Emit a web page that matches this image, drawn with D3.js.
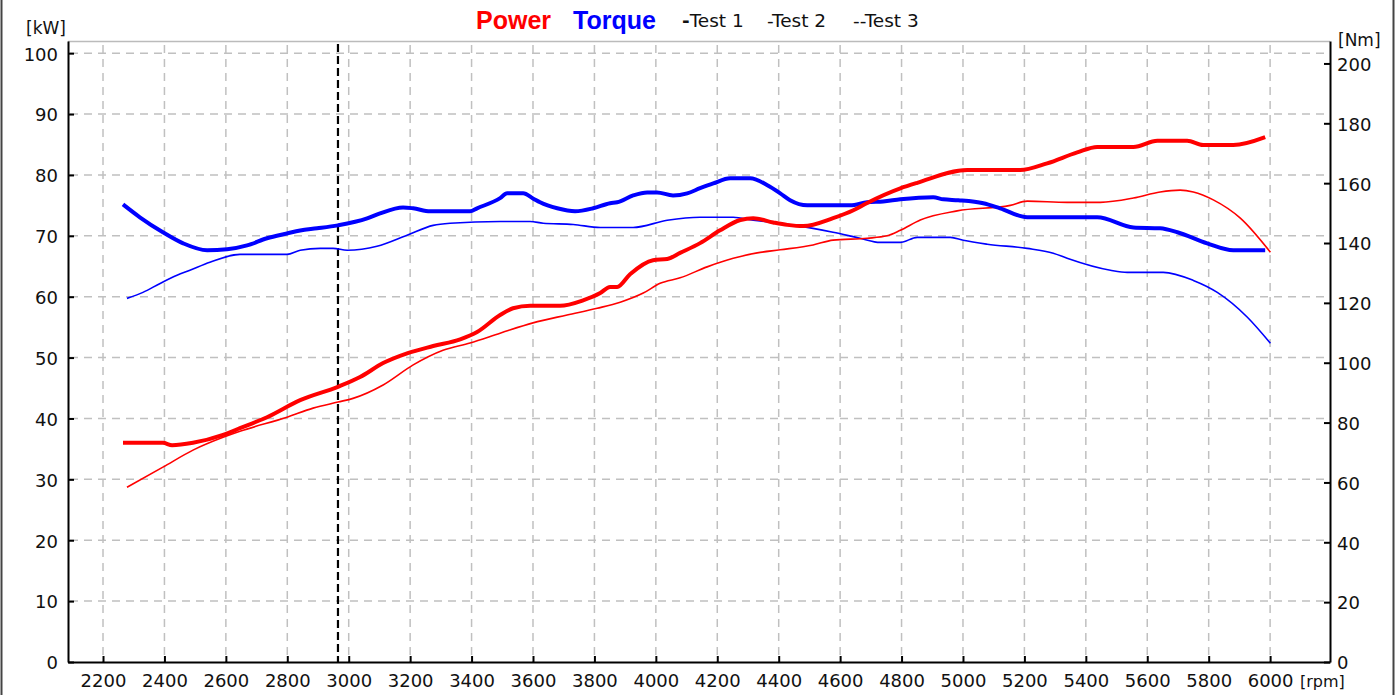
<!DOCTYPE html>
<html><head><meta charset="utf-8">
<script src="https://cdn.jsdelivr.net/npm/d3@7"></script>
<style>
html,body{margin:0;padding:0;background:#fff;}
svg text{font-family:"DejaVu Sans",Verdana,sans-serif;}
</style></head>
<body>
<svg id="chart" width="1396" height="695"></svg>
<script>
// ---- data (rpm, value) ----
const powerTest1 = [[2265,36.0],[2395,36.0],[2425,35.6],[2493,36.0],[2591,37.3],[2646,38.4],[2734,40.2],[2842,43.0],[2965,45.2],[3037,46.8],[3112,49.1],[3190,50.7],[3275,51.9],[3363,53.0],[3418,54.2],[3493,57.0],[3535,58.1],[3591,58.5],[3688,58.5],[3763,59.4],[3819,60.6],[3851,61.6],[3874,61.6],[3916,63.7],[3991,66.0],[4037,66.2],[4079,67.2],[4144,68.8],[4209,70.9],[4275,72.6],[4317,72.9],[4382,72.2],[4428,71.8],[4480,71.6],[4577,72.9],[4643,74.2],[4688,75.4],[4796,77.8],[4851,78.7],[5014,80.8],[5186,80.8],[5274,81.9],[5372,83.7],[5437,84.6],[5555,84.6],[5633,85.6],[5730,85.6],[5782,84.9],[5880,84.9],[5984,86.2]];
const powerTest2 = [[2278,28.7],[2395,32.0],[2493,34.8],[2591,36.9],[2646,37.9],[2799,40.2],[2884,41.7],[2965,42.7],[3014,43.3],[3112,45.5],[3210,48.8],[3307,51.2],[3395,52.4],[3493,54.0],[3600,55.7],[3711,57.0],[3809,58.1],[3884,59.1],[3959,60.6],[4014,62.2],[4079,63.1],[4167,64.9],[4252,66.3],[4330,67.2],[4405,67.7],[4512,68.5],[4577,69.3],[4688,69.6],[4753,70.0],[4796,70.9],[4861,72.6],[4981,74.1],[5154,75.0],[5209,75.7],[5339,75.5],[5447,75.5],[5555,76.2],[5642,77.2],[5707,77.5],[5750,77.2],[5815,75.9],[5903,72.9],[6001,67.3]];
const torqueTest1 = [[2265,152.9],[2320,148.6],[2395,143.6],[2461,139.9],[2539,137.6],[2604,137.9],[2669,139.2],[2734,141.6],[2799,143.2],[2842,144.2],[2897,144.9],[2965,145.9],[3060,148.2],[3102,149.9],[3177,151.9],[3210,151.6],[3265,150.6],[3395,150.6],[3418,151.6],[3493,155.0],[3516,156.6],[3568,156.6],[3600,154.9],[3623,153.6],[3679,151.6],[3737,150.6],[3796,151.6],[3851,153.3],[3874,153.6],[3926,155.9],[3972,156.9],[4004,156.9],[4056,155.9],[4102,156.6],[4144,158.3],[4187,159.9],[4242,161.6],[4307,161.6],[4363,159.3],[4405,156.6],[4437,154.3],[4493,152.6],[4633,152.6],[4688,153.6],[4740,153.9],[4796,154.6],[4903,155.3],[4936,154.6],[4985,154.3],[5066,153.3],[5121,151.6],[5209,148.6],[5437,148.6],[5555,145.2],[5642,144.9],[5698,143.6],[5795,139.9],[5880,137.6],[5984,137.6]];
const torqueTest2 = [[2278,121.5],[2330,123.5],[2386,126.5],[2441,129.2],[2483,130.9],[2548,133.6],[2646,136.2],[2799,136.2],[2842,137.6],[2907,138.2],[2949,138.2],[2995,137.6],[3092,138.9],[3190,142.6],[3275,145.9],[3330,146.6],[3493,147.2],[3591,147.2],[3633,146.6],[3731,146.2],[3819,145.2],[3926,145.2],[4037,147.6],[4144,148.6],[4252,148.6],[4317,147.6],[4405,146.6],[4512,144.9],[4577,143.6],[4665,141.6],[4730,140.2],[4796,140.2],[4851,141.9],[4959,141.9],[5001,140.9],[5079,139.6],[5209,138.2],[5294,136.6],[5339,134.9],[5480,130.9],[5535,130.2],[5652,130.2],[5750,127.5],[5828,123.5],[5926,115.2],[6001,106.5]];
const rpmTicks = [2200,2400,2600,2800,3000,3200,3400,3600,3800,4000,4200,4400,4600,4800,5000,5200,5400,5600,5800,6000];
const kwTicks = [0,10,20,30,40,50,60,70,80,90,100];
const nmTicks = [0,20,40,60,80,100,120,140,160,180,200];
const cursorRpm = 2965;

// ---- layout ----
const L = 68, R = 1330, T = 41, B = 662;
const svg = d3.select("#chart");
const x = d3.scaleLinear().domain([2086, 6195]).range([L, R]);
const yL = d3.scaleLinear().domain([0, 102]).range([B, T]);
const yR = d3.scaleLinear().domain([0, 207.5]).range([B, T]);

// outer frame
svg.append("line").attr("x1",1.5).attr("x2",1.5).attr("y1",0).attr("y2",695).attr("stroke","#444").attr("stroke-width",2);
svg.append("line").attr("x1",1393.5).attr("x2",1393.5).attr("y1",0).attr("y2",695).attr("stroke","#444").attr("stroke-width",2);

// top border
svg.append("line").attr("x1",L).attr("x2",R).attr("y1",T+0.5).attr("y2",T+0.5).attr("stroke","#bbb").attr("stroke-width",1.5);

// grid
const grid = svg.append("g").attr("stroke","#c0c0c0").attr("stroke-width",1.5).attr("stroke-dasharray","8,6").attr("fill","none");
kwTicks.filter(d=>d>0).forEach(v=>{
  grid.append("line").attr("x1",L+2).attr("x2",R).attr("y1",yL(v)).attr("y2",yL(v));
});
rpmTicks.forEach(v=>{
  grid.append("line").attr("x1",x(v)).attr("x2",x(v)).attr("y1",T+4).attr("y2",B);
});

// cursor line
svg.append("line").attr("x1",x(cursorRpm)).attr("x2",x(cursorRpm)).attr("y1",T+3).attr("y2",B)
  .attr("stroke","#000").attr("stroke-width",2.2).attr("stroke-dasharray","8,4");

// axes
const fmt = d3.format("d");
const axL = d3.axisLeft(yL).tickValues(kwTicks).tickFormat(fmt).tickSizeInner(-6).tickSizeOuter(0).tickPadding(10);
const axR = d3.axisRight(yR).tickValues(nmTicks).tickFormat(fmt).tickSizeInner(-6).tickSizeOuter(0).tickPadding(7);
const axB = d3.axisBottom(x).tickValues(rpmTicks).tickFormat(fmt).tickSizeInner(-6).tickSizeOuter(0).tickPadding(12);
function styleAxis(g){
  g.select(".domain").attr("stroke","#000").attr("stroke-width",2);
  g.selectAll(".tick line").attr("stroke","#000").attr("stroke-width",2);
  g.selectAll(".tick text").attr("fill","#111").style("font-size","18px").style("font-family","'DejaVu Sans',sans-serif");
}
const gL = svg.append("g").attr("transform",`translate(${L},0)`).call(axL).call(styleAxis);
gL.selectAll(".tick text").attr("dy","0.38em");
const gR = svg.append("g").attr("transform",`translate(${R},0)`).call(axR).call(styleAxis);
gR.selectAll(".tick text").attr("dy","0.38em");
const gB = svg.append("g").attr("transform",`translate(0,${B})`).call(axB).call(styleAxis);
gB.selectAll(".tick text").attr("dy","0.71em");

// unit labels
svg.append("text").attr("x",26).attr("y",34).text("[kW]").style("font-size","17px").attr("fill","#111");
svg.append("text").attr("x",1338).attr("y",46).text("[Nm]").style("font-size","17px").attr("fill","#111");
svg.append("text").attr("x",1300).attr("y",687).text("[rpm]").style("font-size","16px").attr("fill","#111");

// lines
const line = (ys)=>d3.line().x(d=>x(d[0])).y(d=>ys(d[1])).curve(d3.curveMonotoneX);
svg.append("path").datum(torqueTest2).attr("d",line(yR)).attr("fill","none").attr("stroke","#0000ff").attr("stroke-width",1.6);
svg.append("path").datum(powerTest2).attr("d",line(yL)).attr("fill","none").attr("stroke","#ff0000").attr("stroke-width",1.6);
svg.append("path").datum(torqueTest1).attr("d",line(yR)).attr("fill","none").attr("stroke","#0000ff").attr("stroke-width",4).attr("stroke-linejoin","round");
svg.append("path").datum(powerTest1).attr("d",line(yL)).attr("fill","none").attr("stroke","#ff0000").attr("stroke-width",4).attr("stroke-linejoin","round");

// title / legend
const tt = svg.append("g");
tt.append("text").attr("x",476).attr("y",29).text("Power").attr("fill","#ff0000")
  .style("font-family","'Liberation Sans',Arial,sans-serif").style("font-weight","bold").style("font-size","25px");
tt.append("text").attr("x",573).attr("y",29).text("Torque").attr("fill","#0000ff")
  .style("font-family","'Liberation Sans',Arial,sans-serif").style("font-weight","bold").style("font-size","25px");
const t1 = tt.append("text").attr("x",682).attr("y",27).style("font-size","18.5px").attr("fill","#111");
t1.append("tspan").text("-").style("font-weight","bold");
t1.append("tspan").text("Test 1");
tt.append("text").attr("x",767).attr("y",27).style("font-size","18.5px").attr("fill","#111").text("-Test 2");
tt.append("text").attr("x",853).attr("y",27).style("font-size","18.5px").attr("fill","#111").text("--Test 3");
</script>
</body></html>
